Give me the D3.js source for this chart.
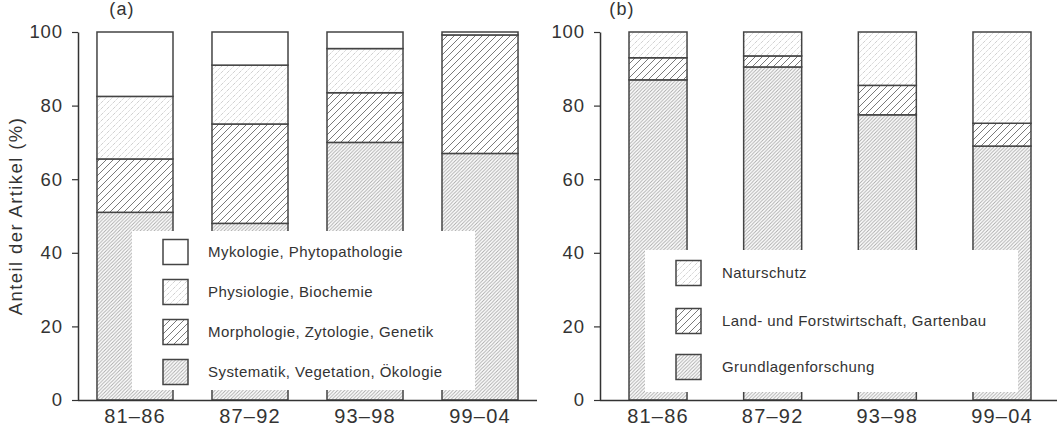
<!DOCTYPE html>
<html><head><meta charset="utf-8">
<script src="https://cdn.jsdelivr.net/npm/d3@7"></script>
<style>
body{margin:0;background:#fff;}
text{font-family:"Liberation Sans",Arial,Helvetica,sans-serif;fill:#333;}
</style></head>
<body><svg id="c" width="1057" height="427"></svg>
<script>
const categories = ["81–86","87–92","93–98","99–04"];
const yTicks = [0,20,40,60,80,100];
// Panel (a) segment values, bottom to top
const systematik = [51, 48, 70, 67];
const morphologie = [14.5, 27, 13.5, 32.2];
const physiologie = [17, 16, 12, 0];
const mykologie = [17.5, 9, 4.5, 0.8];
const legendA = ["Mykologie, Phytopathologie","Physiologie, Biochemie","Morphologie, Zytologie, Genetik","Systematik, Vegetation, Ökologie"];
// Panel (b) segment values, bottom to top
const grundlagen = [87, 90.5, 77.5, 69];
const landForst = [6, 3, 8, 6.2];
const naturschutz = [7, 6.5, 14.5, 24.8];
const legendB = ["Naturschutz","Land- und Forstwirtschaft, Gartenbau","Grundlagenforschung"];

const svg = d3.select("#c");
const defs = svg.append("defs");
function hatch(id, size, color, width, dash){
  const p = defs.append("pattern").attr("id",id).attr("patternUnits","userSpaceOnUse")
    .attr("width",size).attr("height",size);
  p.append("rect").attr("width",size).attr("height",size).attr("fill","#fff");
  const path = p.append("path")
    .attr("d",`M0,${size} L${size},0 M${-size/2},${size/2} L${size/2},${-size/2} M${size/2},${size*1.5} L${size*1.5},${size/2}`)
    .attr("stroke",color).attr("stroke-width",width).attr("fill","none");
  if(dash) path.attr("stroke-dasharray",dash);
}
hatch("light", 6, "#d0d0d0", 1, "2,1.2");
hatch("medium", 7, "#7a7a7a", 1);
hatch("dense", 3.5, "#a8a8a8", 0.9);
const fills = {white:"#fff", light:"url(#light)", medium:"url(#medium)", dense:"url(#dense)"};

const y = d3.scaleLinear().domain([0,100]).range([400,32]);

function panel(opts){
  const g = svg.append("g");
  const x = d3.scaleBand().domain(categories).range(opts.xr)
    .paddingInner(opts.pi).paddingOuter(opts.po);
  categories.forEach((c,i)=>{
    let base = 0;
    opts.series.forEach(s=>{
      const v = s.values[i];
      if(v>0){
        g.append("rect").attr("x",x(c)).attr("width",x.bandwidth())
          .attr("y",y(base+v)).attr("height",y(base)-y(base+v))
          .attr("fill",fills[s.fill]).attr("stroke","#444").attr("stroke-width",1.5);
      }
      base += v;
    });
  });
  const L = opts.legend;
  g.append("rect").attr("x",L.x).attr("y",L.y).attr("width",L.w).attr("height",L.h).attr("fill","#fff");
  L.items.forEach((it,k)=>{
    const cy = L.rows[k];
    g.append("rect").attr("x",L.bx).attr("y",cy-12.5).attr("width",25).attr("height",25)
      .attr("fill",fills[it.fill]).attr("stroke","#444").attr("stroke-width",1.5);
    g.append("text").attr("x",L.tx).attr("y",cy).attr("dy","0.36em")
      .style("font-size","15px").style("letter-spacing","0.45px").text(it.label);
  });
  const ya = g.append("g").attr("transform",`translate(${opts.ax},0)`)
    .call(d3.axisLeft(y).tickValues(yTicks).tickSize(6).tickSizeOuter(0).tickPadding(9));
  ya.select(".domain").attr("stroke","#333").attr("stroke-width",1.5);
  ya.selectAll(".tick line").attr("stroke","#333").attr("stroke-width",1.2);
  ya.selectAll(".tick text").style("font-size","18.5px").style("letter-spacing","0.9px")
    .style("font-family","'Liberation Sans',Arial,sans-serif").attr("fill","#333");
  const xa = g.append("g").attr("transform","translate(0,400)")
    .call(d3.axisBottom(x).tickSize(0).tickSizeOuter(0).tickPadding(9));
  xa.select(".domain").attr("d",`M${opts.ax},0.5H${opts.xend}`).attr("stroke","#333").attr("stroke-width",1.5);
  xa.selectAll(".tick text").style("font-size","20px").style("letter-spacing","1.2px")
    .style("font-family","'Liberation Sans',Arial,sans-serif").attr("fill","#333");
  g.append("text").attr("x",opts.tx).attr("y",15).attr("text-anchor","middle")
    .style("font-size","18px").style("letter-spacing","1.2px").text(opts.title);
}

panel({
  xr:[78,537], pi:0.339, po:0.165, ax:78, xend:537, title:"(a)", tx:122,
  series:[
    {values:systematik, fill:"dense"},
    {values:morphologie, fill:"medium"},
    {values:physiologie, fill:"light"},
    {values:mykologie, fill:"white"}
  ],
  legend:{x:132,y:231,w:343,h:159,bx:163,tx:208,rows:[252,292,332,372],
    items:[{label:legendA[0],fill:"white"},{label:legendA[1],fill:"light"},{label:legendA[2],fill:"medium"},{label:legendA[3],fill:"dense"}]}
});

panel({
  xr:[600,1060], pi:0.494, po:0.253, ax:600, xend:1057, title:"(b)", tx:622,
  series:[
    {values:grundlagen, fill:"dense"},
    {values:landForst, fill:"medium"},
    {values:naturschutz, fill:"light"}
  ],
  legend:{x:645,y:250,w:373,h:142,bx:676,tx:722,rows:[273,321,367],
    items:[{label:legendB[0],fill:"light"},{label:legendB[1],fill:"medium"},{label:legendB[2],fill:"dense"}]}
});

svg.append("text").attr("transform","translate(22,216) rotate(-90)").attr("text-anchor","middle")
  .style("font-size","18.5px").style("letter-spacing","1.4px").text("Anteil der Artikel (%)");
</script></body></html>
